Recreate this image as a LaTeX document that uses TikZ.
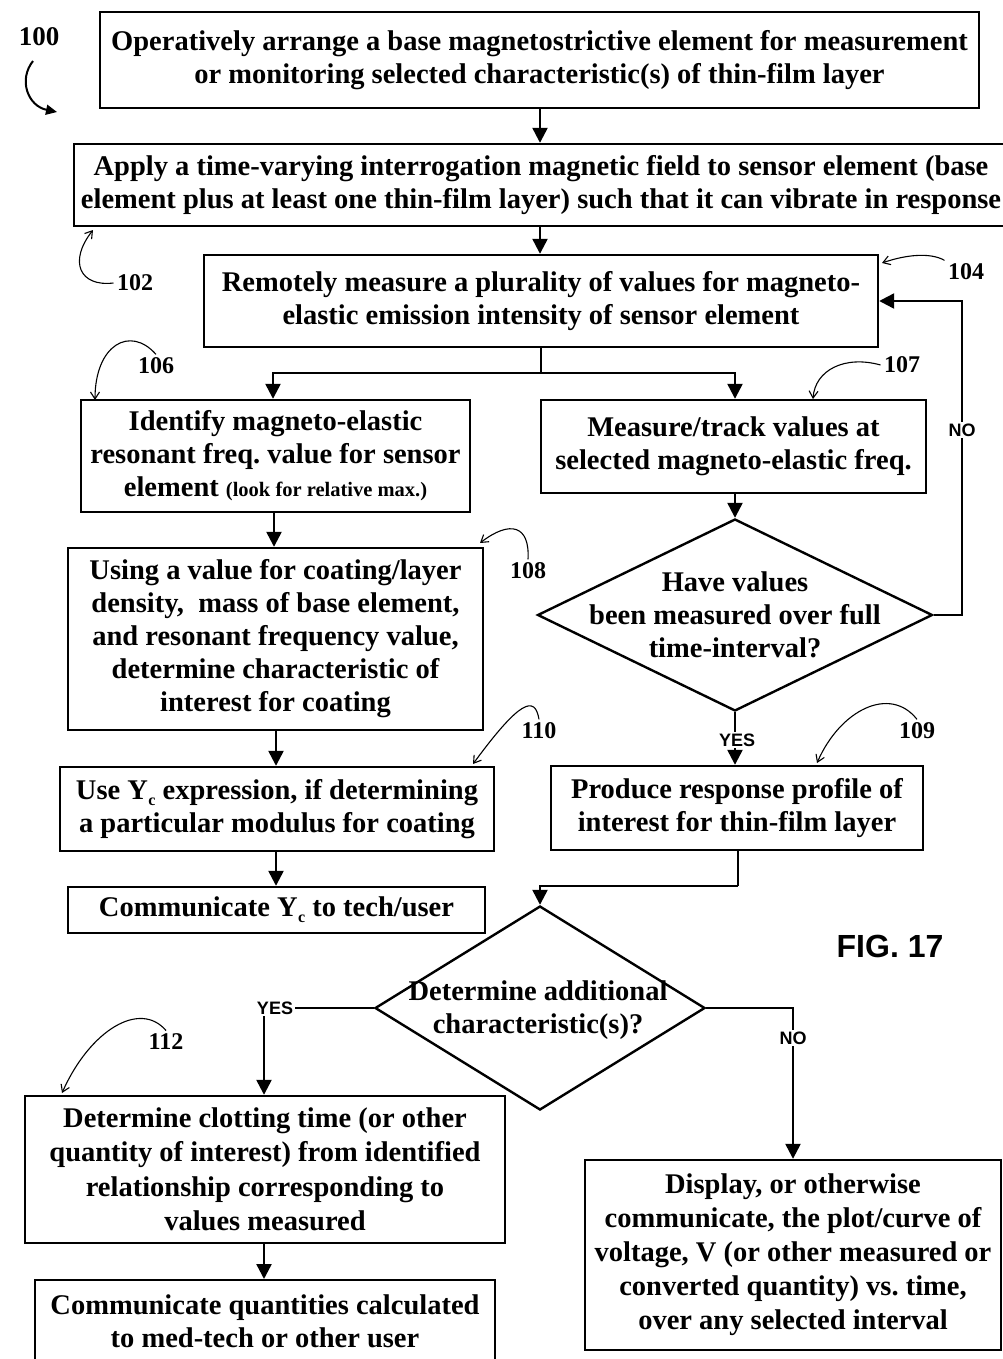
\documentclass[tikz,border=0pt]{standalone}
\usepackage{fontspec}
\setmainfont{Liberation Serif}
\newfontfamily\labelsans{Liberation Sans}
\usetikzlibrary{arrows.meta,shapes.geometric}
\frenchspacing
\newcommand{\Ysub}{Y\kern0.5pt\raisebox{-6pt}{\fontsize{16}{16}\selectfont c}}
\tikzset{
  box/.style={draw, line width=2.4pt, rectangle, inner sep=0pt, align=center,
    font=\fontsize{28.5}{33}\selectfont\bfseries},
  decision/.style={draw, line width=2.4pt, diamond, inner sep=0pt},
  dtext/.style={align=center, font=\fontsize{28.5}{33}\selectfont\bfseries},
  flow/.style={line width=2.4pt, -{Triangle[length=15pt,width=15pt]}},
  plain/.style={line width=2.4pt},
  refline/.style={line width=1.1pt, -{Straight Barb[length=7pt,width=9pt]}},
  reftext/.style={font=\fontsize{24}{24}\selectfont\bfseries},
  yn/.style={font=\labelsans\fontsize{18}{18}\selectfont\bfseries, fill=white, inner sep=2pt},
}
\begin{document}
\begin{tikzpicture}[x=1pt,y=-1pt]
\useasboundingbox (0,0) rectangle (1002,1359);
% boxes
\node[box, minimum width=879, minimum height=96] (b1) at (539.5,60)
  {Operatively arrange a base magnetostrictive element for measurement\\or monitoring selected characteristic(s) of thin-film layer};
\node[box, minimum width=934, minimum height=82] (b2) at (541,185)
  {Apply a time-varying interrogation magnetic field to sensor element (base\\element plus at least one thin-film layer) such that it can vibrate in response};
\node[box, minimum width=674, minimum height=92] (b3) at (541,301)
  {Remotely measure a plurality of values for magneto-\\elastic emission intensity of sensor element};
\node[box, minimum width=389, minimum height=112] (b4) at (275.5,456)
  {Identify magneto-elastic\\resonant freq. value for sensor\\element {\fontsize{20.5}{33}\selectfont (look for relative max.)}};
\node[box, minimum width=385, minimum height=93] (b5) at (733.5,446.5)
  {Measure/track values at\\selected magneto-elastic freq.};
\node[box, minimum width=415, minimum height=182] (b6) at (275.5,639)
  {Using a value for coating/layer\\density,\ \ mass of base element,\\and resonant frequency value,\\determine characteristic of\\interest for coating};
\node[box, minimum width=434, minimum height=84] (b7) at (277,809)
  {Use \Ysub\ expression, if determining\\a particular modulus for coating};
\node[box, minimum width=417, minimum height=46] (b8) at (276.5,910)
  {Communicate \Ysub\ to tech/user};
\node[box, minimum width=372, minimum height=84] (b9) at (737,808)
  {Produce response profile of\\interest for thin-film layer};
\node[box, minimum width=480, minimum height=147, font=\fontsize{28.5}{34.5}\selectfont\bfseries] (b10) at (265,1169.5)
  {Determine clotting time (or other\\quantity of interest) from identified\\relationship corresponding to\\values measured};
\node[box, minimum width=460, minimum height=100, anchor=north] (b11) at (265,1279) {};
\node[dtext] (b11t) at (265,1321)
  {Communicate quantities calculated\\to med-tech or other user};
\node[box, minimum width=416, minimum height=190, font=\fontsize{28.5}{34}\selectfont\bfseries] (b12) at (793,1255)
  {Display, or otherwise\\communicate, the plot/curve of\\voltage, V (or other measured or\\converted quantity) vs. time,\\over any selected interval};
% decisions
\node[decision, minimum width=395, minimum height=192] (d1) at (735,615) {};
\node[dtext] (d1t) at (735,615) {Have values\\been measured over full\\time-interval?};
\node[decision, minimum width=330, minimum height=204] (d2) at (540,1008) {};
\node[dtext] (d2t) at (538,1010) {Determine additional\\characteristic(s)?};
% coordinates
\coordinate (split) at (541,373);
\coordinate (loopR) at (962,615);
\coordinate (join) at (738,886);
\coordinate (noR) at (793,1008);
% flow connectors
\draw[flow] (b1.south -| 540,0) -- (b2.north -| 540,0);
\draw[flow] (b2.south -| 540,0) -- (b3.north -| 540,0);
\draw[plain] (b3.south -| split) -- (split);
\draw[flow] (split) -| (b4.north -| 273,0);
\draw[flow] (split) -| (b5.north -| 735,0);
\draw[flow] (b5.south -| 735,0) -- (d1.north);
\draw[flow] (d1.east) -- (loopR) |- (b3.east);
\node[yn] (no1) at (962,430) {NO};
\draw[flow] (d1.south) -- (b9.north -| d1.south);
\node[yn] (yes1) at (737,740) {YES};
\draw[plain] (b9.south -| join) -- (join);
\draw[flow] (join) -| (d2.north);
\draw[flow] (d2.west) -| (b10.north -| 264,0);
\node[yn] (yes2) at (275,1008) {YES};
\draw[flow] (d2.east) -- (noR) -- (b12.north -| noR);
\node[yn] (no2) at (793,1038) {NO};
\draw[flow] (b4.south -| 274,0) -- (b6.north -| 274,0);
\draw[flow] (b6.south -| 276,0) -- (b7.north -| 276,0);
\draw[flow] (b7.south -| 276,0) -- (b8.north -| 276,0);
\draw[flow] (b10.south -| 264,0) -- (b11.north -| 264,0);
% reference numerals
\node[font=\fontsize{27}{27}\selectfont\bfseries] (r100) at (39,37) {100};
\coordinate (t100) at (57,112);
\draw[line width=2pt, -{Triangle[length=11pt,width=10pt]}] (33,61) .. controls (18,80) and (28,106) .. (t100);
\node[reftext] (r102) at (135,283) {102};
\coordinate (t102) at (93,230);
\draw[refline] (r102.west) .. controls (80,287) and (68,262) .. (t102);
\node[reftext] (r104) at (966,272) {104};
\coordinate (t104) at (882,263);
\draw[refline] (r104.north west) .. controls (930,252) and (905,255) .. (t104);
\node[reftext] (r106) at (156,366) {106};
\coordinate (t106) at (95,400);
\draw[refline] (r106.north) .. controls (130,325) and (95,345) .. (t106);
\node[reftext] (r107) at (902,365) {107};
\coordinate (t107) at (813,399);
\draw[refline] (r107.west) .. controls (845,355) and (815,370) .. (t107);
\node[reftext] (r108) at (528,571) {108};
\coordinate (t108) at (480,543);
\draw[refline] (r108.north) .. controls (530,525) and (510,520) .. (t108);
\node[reftext] (r110) at (539,731) {110};
\coordinate (t110) at (473,764);
\draw[refline] (r110.north) .. controls (535,695) and (520,700) .. (t110);
\node[reftext] (r109) at (917,731) {109};
\coordinate (t109) at (817,763);
\draw[refline] (r109.north) .. controls (890,685) and (840,710) .. (t109);
\node[reftext] (r112) at (166,1042) {112};
\coordinate (t112) at (62,1093);
\draw[refline] (r112.north) .. controls (140,1000) and (90,1030) .. (t112);
% figure label
\node[font=\labelsans\fontsize{32}{32}\selectfont\bfseries] (fig) at (890,946) {FIG. 17};
\end{tikzpicture}
\end{document}
